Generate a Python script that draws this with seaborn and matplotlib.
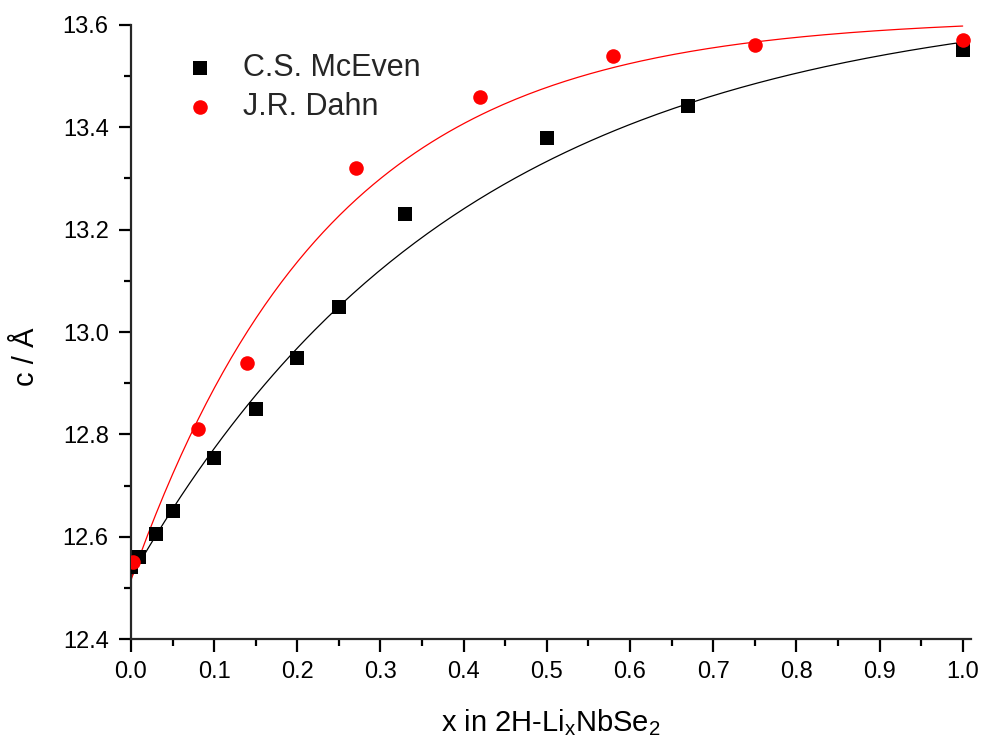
import numpy as np
import pandas as pd
import matplotlib
matplotlib.use('Agg')
import matplotlib.pyplot as plt
import seaborn as sns
from matplotlib.ticker import MultipleLocator, FormatStrFormatter

# --- data ---
mceven_x = [0.0, 0.01, 0.03, 0.05, 0.10, 0.15, 0.20, 0.25, 0.33, 0.50, 0.67, 1.00]
mceven_c = [12.54, 12.56, 12.605, 12.65, 12.754, 12.85, 12.949, 13.049, 13.231, 13.379, 13.442, 13.551]

dahn_x = [0.003, 0.08, 0.14, 0.27, 0.42, 0.58, 0.75, 1.00]
dahn_c = [12.55, 12.81, 12.94, 13.32, 13.46, 13.54, 13.56, 13.57]

# exponential-association fit parameters: c = c0 + A*(1 - exp(-x/t))
mceven_fit = dict(c0=12.52, A=1.14, t=0.40)
dahn_fit = dict(c0=12.515, A=1.10, t=0.24)


def fit_curve(p, n=200):
    xs = np.linspace(0, 1, n)
    return pd.DataFrame({'x': xs, 'c': p['c0'] + p['A'] * (1 - np.exp(-xs / p['t']))})


sns.set_theme(style='ticks')
plt.rcParams['font.family'] = ['Liberation Sans', 'DejaVu Sans']
plt.rcParams['mathtext.fontset'] = 'custom'
plt.rcParams['mathtext.rm'] = 'Liberation Sans'

fig = plt.figure(figsize=(9.81, 7.46), dpi=100)
ax = fig.add_axes([0.1335, 0.1434, 0.9898 - 0.1335, 0.9665 - 0.1434])

mc = pd.DataFrame({'x': mceven_x, 'c': mceven_c})
jd = pd.DataFrame({'x': dahn_x, 'c': dahn_c})

sns.lineplot(data=fit_curve(mceven_fit), x='x', y='c', color='black', linewidth=0.9, ax=ax, zorder=2)
sns.lineplot(data=fit_curve(dahn_fit), x='x', y='c', color='red', linewidth=0.9, ax=ax, zorder=2)
sns.scatterplot(data=mc, x='x', y='c', marker='s', color='black', s=95, linewidth=0,
                label='C.S. McEven', ax=ax, zorder=3)
sns.scatterplot(data=jd, x='x', y='c', marker='o', color='red', s=110, linewidth=0,
                label='J.R. Dahn', ax=ax, zorder=4)

ax.set_xlim(0, 1.01)
ax.set_ylim(12.4, 13.6)
ax.xaxis.set_major_locator(MultipleLocator(0.1))
ax.xaxis.set_minor_locator(MultipleLocator(0.05))
ax.yaxis.set_major_locator(MultipleLocator(0.2))
ax.yaxis.set_minor_locator(MultipleLocator(0.1))
ax.xaxis.set_major_formatter(FormatStrFormatter('%.1f'))
ax.yaxis.set_major_formatter(FormatStrFormatter('%.1f'))

for side in ['top', 'right']:
    ax.spines[side].set_visible(False)
for side in ['left', 'bottom']:
    ax.spines[side].set_linewidth(1.6)
ax.tick_params(which='major', length=9, width=1.6, labelsize=17, pad=7, color='black', labelcolor='black')
ax.tick_params(which='minor', length=5, width=1.6, color='black')

ax.set_xlabel(r'x in 2H-Li$_\mathregular{x}$NbSe$_\mathregular{2}$', fontsize=21, color='black')
ax.set_ylabel('c / Å', fontsize=21, color='black')
ax.xaxis.set_label_coords(0.5, -0.111)
ax.yaxis.set_label_coords(-0.108, 0.46)

ax.legend(loc='upper left', bbox_to_anchor=(0.031, 0.9735), frameon=False, fontsize=22,
          handletextpad=0.4, labelspacing=0.28, borderaxespad=0)

fig.savefig('out.png', dpi=100)
